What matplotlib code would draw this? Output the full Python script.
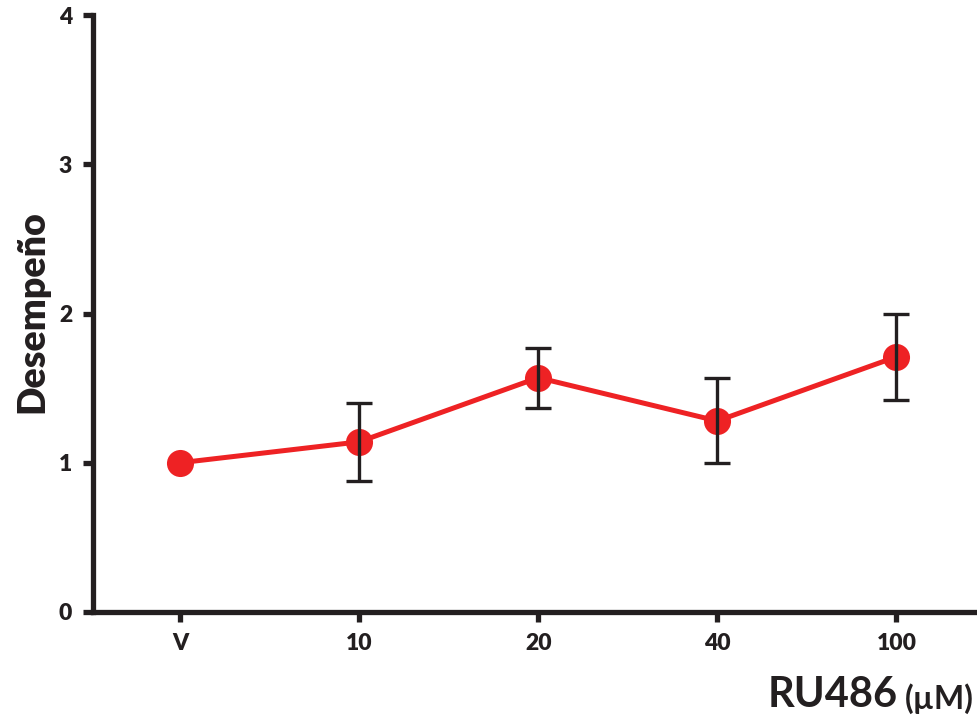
import matplotlib
matplotlib.use("Agg")
import matplotlib.pyplot as plt

categories = ["V", "10", "20", "40", "100"]
desempeno = [1.0, 1.14, 1.57, 1.28, 1.71]
error = [0.0, 0.26, 0.20, 0.285, 0.29]
y_ticks = [0, 1, 2, 3, 4]

RED = "#EE2224"
INK = "#231F20"

plt.rcParams["font.family"] = ["Lato", "DejaVu Sans"]
plt.rcParams["font.weight"] = "bold"

fig = plt.figure(figsize=(9.77, 7.19), dpi=100)
ax = fig.add_axes([93 / 977, 1 - 612 / 719, 1 - 93 / 977, (612 - 15) / 719])

x = list(range(len(categories)))
ax.plot(x, desempeno, color=RED, lw=3.6, zorder=2)
ax.errorbar(x[1:], desempeno[1:], yerr=error[1:], fmt="none", ecolor=INK,
            elinewidth=2.4, capsize=9.5, capthick=2.4, zorder=4)
ax.plot(x, desempeno, "o", color=RED, ms=19.5, mec="none", zorder=3)

ax.set_xlim(-0.486, 4.45)
ax.set_ylim(0, 4)
ax.set_xticks(x)
ax.set_xticklabels(categories)
ax.set_yticks(y_ticks)

for s in ["top", "right"]:
    ax.spines[s].set_visible(False)
for s in ["left", "bottom"]:
    ax.spines[s].set_linewidth(3.8)
    ax.spines[s].set_color(INK)
    ax.spines[s].set_capstyle("projecting")

ax.tick_params(axis="both", colors=INK, width=3.8, length=7, labelsize=16.5, pad=8)
for lbl in ax.get_xticklabels() + ax.get_yticklabels():
    lbl.set_fontweight("heavy")

fig.text(32 / 977, 1 - 312 / 719, "Desempeño", rotation=90, ha="center", va="center",
         fontsize=27, fontweight="heavy", color=INK)
fig.text(768 / 977, 1 - 707 / 719, "RU486", ha="left", va="baseline",
         fontsize=30, fontweight="bold", color=INK)
fig.text(905 / 977, 1 - 709 / 719, "(µM)", ha="left", va="baseline",
         fontsize=23, fontweight="bold", color=INK)

fig.savefig("out.png", dpi=100)
